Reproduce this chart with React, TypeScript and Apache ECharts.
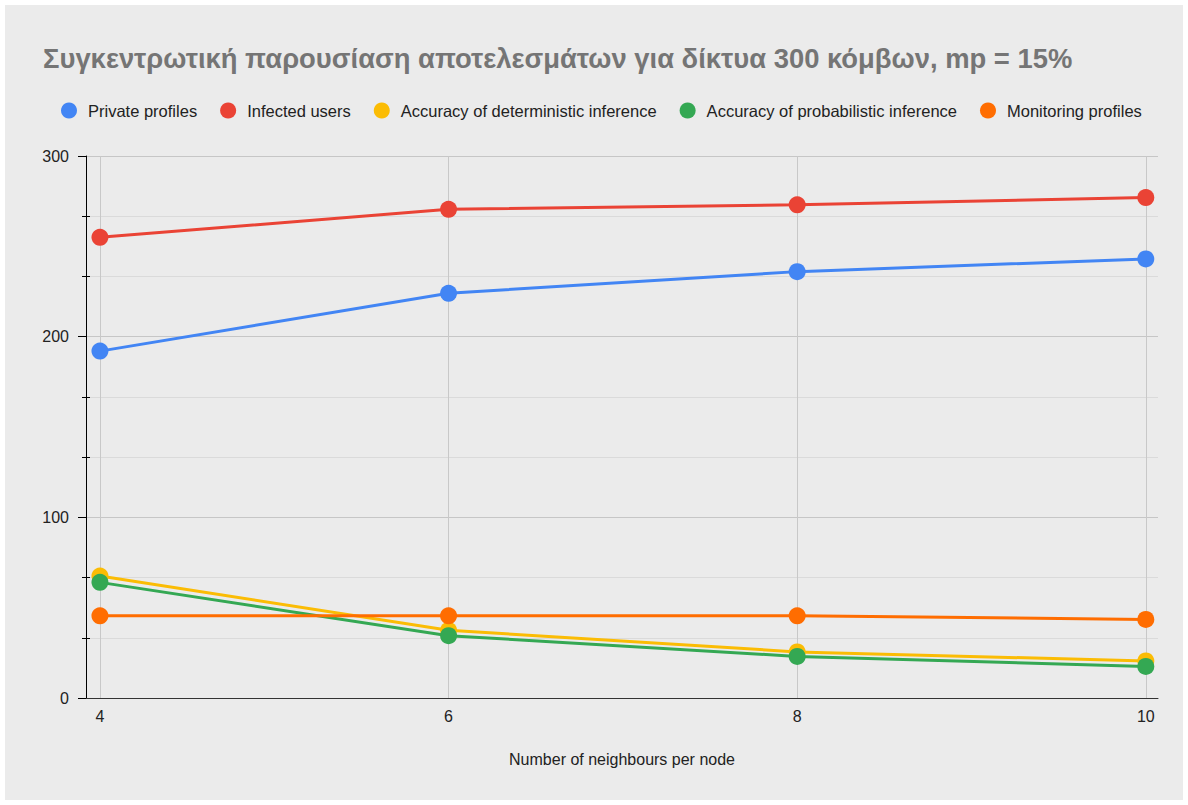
import React, { useEffect, useRef } from "react";
import * as echarts from "echarts";

const titleText = "Συγκεντρωτική παρουσίαση αποτελεσμάτων για δίκτυα 300 κόμβων, mp = 15%";
const xAxisName = "Number of neighbours per node";
const xValues = [4, 6, 8, 10];
const seriesNames = [
  "Private profiles",
  "Infected users",
  "Accuracy of deterministic inference",
  "Accuracy of probabilistic inference",
  "Monitoring profiles",
];
const seriesColors = ["#4285f4", "#ea4335", "#fbbc04", "#34a853", "#ff6d01"];
const privateProfiles = [192, 224, 236, 243];
const infectedUsers = [255, 270.5, 273, 277];
const deterministicAccuracy = [67.5, 37.5, 25.5, 20.5];
const probabilisticAccuracy = [64, 34.5, 23, 17.5];
const monitoringProfiles = [45.5, 45.5, 45.5, 43.5];
const seriesValues = [
  privateProfiles,
  infectedUsers,
  deterministicAccuracy,
  probabilisticAccuracy,
  monitoringProfiles,
];

const FONT = "Arial, 'Liberation Sans', sans-serif";

export default function App() {
  const ref = useRef<HTMLDivElement>(null);
  useEffect(() => {
    if (!ref.current) return;
    const chart = echarts.init(ref.current, undefined, { renderer: "svg" });
    const yCommon = {
      type: "value" as const,
      min: 0,
      max: 300,
      interval: 100,
      position: "left" as const,
    };
    chart.setOption({
      animation: false,
      backgroundColor: "#ebebeb",
      textStyle: { fontFamily: FONT },
      title: {
        text: titleText,
        left: 38,
        top: 40,
        padding: 0,
        textStyle: {
          fontFamily: FONT,
          fontSize: 27.4,
          fontWeight: "bold",
          color: "#757575",
          lineHeight: 27,
        },
      },
      legend: {
        top: 97,
        left: 56,
        padding: 0,
        icon: "circle",
        itemWidth: 16,
        itemHeight: 16,
        itemGap: 23,
        textStyle: {
          fontFamily: FONT,
          fontSize: 16.5,
          color: "#222222",
          padding: [0, 0, 0, 6],
        },
        data: seriesNames,
      },
      grid: { left: 81, top: 151, right: 25, bottom: 102, containLabel: false },
      xAxis: {
        type: "value",
        min: 3.92,
        max: 10.07,
        splitNumber: 3,
        minInterval: 2,
        maxInterval: 2,
        name: xAxisName,
        nameLocation: "middle",
        nameGap: 53,
        nameTextStyle: { fontFamily: FONT, fontSize: 16, color: "#222222", lineHeight: 16 },
        axisLine: { show: true, lineStyle: { color: "#333333", width: 1 } },
        axisTick: { show: false },
        axisLabel: {
          show: true,
          margin: 10,
          fontFamily: FONT,
          fontSize: 16,
          color: "#222222",
          lineHeight: 16,
          showMinLabel: false,
          showMaxLabel: false,
        },
        splitLine: {
          show: true,
          showMinLine: false,
          showMaxLine: false,
          lineStyle: { color: "#c8c8c8", width: 1 },
        },
      },
      yAxis: [
        {
          ...yCommon,
          axisLine: { show: true, lineStyle: { color: "#000000", width: 1 } },
          axisTick: { show: true, inside: false, length: 8, lineStyle: { color: "#000000" } },
          minorTick: { show: true, splitNumber: 3, length: 4, lineStyle: { color: "#000000" } },
          axisLabel: { margin: 17, fontFamily: FONT, fontSize: 16, color: "#222222" },
          splitLine: { show: true, lineStyle: { color: "#c6c6c6", width: 1 } },
          minorSplitLine: { show: true, lineStyle: { color: "#dadada", width: 1 } },
        },
        {
          ...yCommon,
          axisLine: { show: false },
          axisTick: { show: true, inside: true, length: 0, lineStyle: { color: "transparent" } },
          minorTick: { show: true, splitNumber: 3, length: 4, lineStyle: { color: "#000000" } },
          axisLabel: { show: false },
          splitLine: { show: false },
          minorSplitLine: { show: false },
        },
      ],
      series: seriesNames.map((name, i) => ({
        name,
        type: "line",
        yAxisIndex: 0,
        data: xValues.map((x, j) => [x, seriesValues[i][j]]),
        symbol: "circle",
        symbolSize: 17,
        showSymbol: true,
        itemStyle: { color: seriesColors[i] },
        lineStyle: { color: seriesColors[i], width: 3 },
        emphasis: { disabled: true },
      })),
    });
    return () => chart.dispose();
  }, []);
  return (
    <div
      ref={ref}
      style={{ position: "absolute", left: 5, top: 5, width: 1178, height: 795 }}
    />
  );
}
